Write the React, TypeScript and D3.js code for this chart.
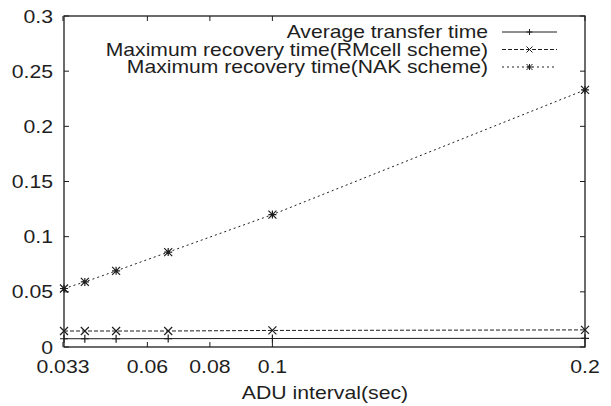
import React from 'react';
import * as d3 from 'd3';

const adu = [1 / 30, 0.04, 0.05, 1 / 15, 0.1, 0.2];
const avgTransfer = [0.0075, 0.0075, 0.0075, 0.0076, 0.0077, 0.0079];
const rmcellRecovery = [0.0145, 0.0145, 0.0145, 0.0145, 0.015, 0.0155];
const nakRecovery = [0.053, 0.059, 0.069, 0.086, 0.12, 0.233];

const xTicks = [0.033, 0.06, 0.08, 0.1, 0.2];
const yTicks = [0, 0.05, 0.1, 0.15, 0.2, 0.25, 0.3];

const seriesNames = [
  'Average transfer time',
  'Maximum recovery time(RMcell scheme)',
  'Maximum recovery time(NAK scheme)',
];

const W = 611;
const H = 406;
const margin = { top: 16, right: 26, bottom: 59, left: 64 };
const ink = '#1e1e1e';
const stretch = 1.18; // the scan is a little wider than the font

const marker = (type: string, x: number, y: number, s = 4) => {
  if (type === 'plus') {
    return `M${x - s},${y}H${x + s}M${x},${y - s}V${y + s}`;
  }
  if (type === 'cross') {
    return `M${x - s},${y - s}L${x + s},${y + s}M${x - s},${y + s}L${x + s},${y - s}`;
  }
  return `M${x - s},${y}H${x + s}M${x},${y - s}V${y + s}M${x - s},${y - s}L${x + s},${y + s}M${x - s},${y + s}L${x + s},${y - s}`;
};

const Txt = ({ x, y, anchor = 'start', size = 18, sx = stretch, children }: any) => (
  <text transform={`translate(${x},${y}) scale(${sx},1)`} textAnchor={anchor} fontSize={size} fill={ink}>
    {children}
  </text>
);

const App = () => {
  const x = d3.scaleLinear().domain([1 / 30, 0.2]).range([margin.left, W - margin.right]);
  const y = d3.scaleLinear().domain([0, 0.3]).range([H - margin.bottom, margin.top]);
  const line = d3.line<number>().x((_, i) => x(adu[i])).y((d) => y(d));

  const series = [
    { values: avgTransfer, dash: 'none', mark: 'plus' },
    { values: rmcellRecovery, dash: '4,2', mark: 'cross' },
    { values: nakRecovery, dash: '2,3', mark: 'star' },
  ];

  const [x0, x1] = x.range();
  const [y0, y1] = y.range();

  return (
    <svg width={W} height={H} style={{ position: 'absolute', left: 0, top: 0, background: '#fff' }}
      fontFamily="'Liberation Sans', Arial, sans-serif">
      {yTicks.map((t) => (
        <g key={'y' + t}>
          <line x1={x0} x2={x0 + 5} y1={y(t)} y2={y(t)} stroke={ink} />
          <line x1={x1} x2={x1 - 5} y1={y(t)} y2={y(t)} stroke={ink} />
          <Txt x={x0 - 11} y={y(t) + 6.5} anchor="end">{t}</Txt>
        </g>
      ))}
      {xTicks.map((t) => (
        <g key={'x' + t}>
          <line x1={x(t)} x2={x(t)} y1={y0} y2={y0 - 5} stroke={ink} />
          <line x1={x(t)} x2={x(t)} y1={y1} y2={y1 + 5} stroke={ink} />
          <Txt x={x(t)} y={y0 + 26} anchor="middle">{t}</Txt>
        </g>
      ))}
      <Txt x={325} y={399} anchor="middle">ADU interval(sec)</Txt>

      {series.map((s, i) => (
        <g key={'s' + i}>
          <path d={line(s.values) || ''} fill="none" stroke={ink} strokeWidth={1} strokeDasharray={s.dash} />
          {s.values.map((v, j) => (
            <path key={j} d={marker(s.mark, x(adu[j]), y(v))} stroke={ink} strokeWidth={1.2} fill="none" />
          ))}
        </g>
      ))}

      {seriesNames.map((name, i) => {
        const s = series[i];
        const ly = 32 + i * 17.5;
        return (
          <g key={'l' + i}>
            <Txt x={488} y={ly + 6} anchor="end" size={17.6} sx={1.2}>{name}</Txt>
            <line x1={502} x2={557} y1={ly} y2={ly} stroke={ink} strokeDasharray={s.dash} />
            <path d={marker(s.mark, 529.5, ly, 3)} stroke={ink} fill="none" />
          </g>
        );
      })}

      <rect x={x0} y={y1} width={x1 - x0} height={y0 - y1} fill="none" stroke={ink} strokeWidth={1.3} />
    </svg>
  );
};

export default App;
